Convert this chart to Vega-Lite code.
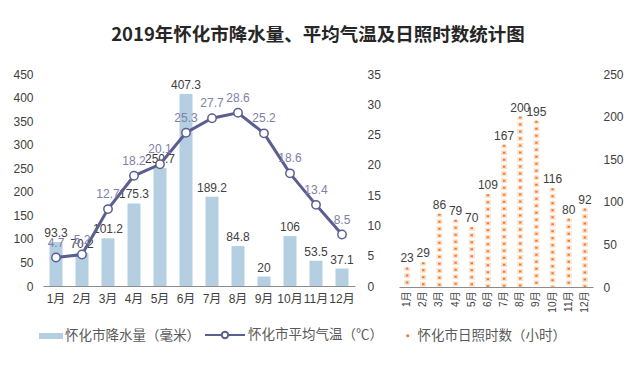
{
  "$schema": "https://vega.github.io/schema/vega-lite/v6.json",
  "background": "white",
  "padding": {"left": 12, "right": 10, "top": 25, "bottom": 5},
  "title": {
    "text": "2019年怀化市降水量、平均气温及日照时数统计图",
    "font": "Noto Sans CJK SC",
    "fontSize": 18.5,
    "fontWeight": "bold",
    "color": "#262626",
    "anchor": "middle",
    "offset": 24
  },
  "config": {
    "view": {"stroke": null},
    "font": "Liberation Sans, Noto Sans CJK SC",
    "axis": {"labelColor": "#404040", "labelFont": "Liberation Sans, Noto Sans CJK SC", "grid": false, "title": null},
    "legend": {"labelFont": "Noto Sans CJK SC", "labelFontSize": 13.5, "labelColor": "#595959", "title": null}
  },
  "datasets": {
    "m": [
      {"month": "1月", "precip": 93.3, "temp": 4.7, "sun": 23},
      {"month": "2月", "precip": 70.2, "temp": 5.2, "sun": 29},
      {"month": "3月", "precip": 101.2, "temp": 12.7, "sun": 86},
      {"month": "4月", "precip": 175.3, "temp": 18.2, "sun": 79},
      {"month": "5月", "precip": 250.7, "temp": 20.1, "sun": 70},
      {"month": "6月", "precip": 407.3, "temp": 25.3, "sun": 109},
      {"month": "7月", "precip": 189.2, "temp": 27.7, "sun": 167},
      {"month": "8月", "precip": 84.8, "temp": 28.6, "sun": 200},
      {"month": "9月", "precip": 20, "temp": 25.2, "sun": 195},
      {"month": "10月", "precip": 106, "temp": 18.6, "sun": 116},
      {"month": "11月", "precip": 53.5, "temp": 13.4, "sun": 80},
      {"month": "12月", "precip": 37.1, "temp": 8.5, "sun": 92}
    ]
  },
  "spacing": 16,
  "resolve": {
    "scale": {"fill": "independent", "stroke": "independent"},
    "legend": {"fill": "independent", "stroke": "independent"}
  },
  "hconcat": [
    {
      "width": 312,
      "height": 212,
      "data": {"name": "m"},
      "encoding": {
        "x": {
          "field": "month", "type": "ordinal", "sort": null,
          "scale": {"paddingInner": 0.5, "paddingOuter": 0.25},
          "axis": {"labelAngle": 0, "ticks": false, "domainColor": "#8c8c8c", "labelFontSize": 12, "labelPadding": 7}
        }
      },
      "layer": [
        {
          "encoding": {
            "y": {
              "field": "precip", "type": "quantitative",
              "scale": {"domain": [0, 450], "nice": false},
              "axis": {"values": [0, 50, 100, 150, 200, 250, 300, 350, 400, 450], "domain": false, "ticks": false, "labelPadding": 10, "labelFontSize": 12}
            }
          },
          "layer": [
            {
              "mark": {"type": "bar", "width": 13},
              "encoding": {
                "fill": {
                  "datum": "怀化市降水量（毫米）",
                  "scale": {"range": ["#b4cfe2"]},
                  "legend": {
                    "orient": "none", "legendX": -4, "legendY": 250,
                    "symbolType": "M-1,-0.25H1V0.25H-1Z", "symbolSize": 576,
                    "symbolStrokeWidth": 0, "labelOffset": 2
                  }
                }
              }
            },
            {
              "mark": {"type": "text", "dy": -9, "fontSize": 12, "color": "#404040"},
              "encoding": {"text": {"field": "precip", "type": "nominal"}}
            }
          ]
        },
        {
          "encoding": {
            "y": {
              "field": "temp", "type": "quantitative",
              "scale": {"domain": [0, 35], "nice": false},
              "axis": {"orient": "right", "values": [0, 5, 10, 15, 20, 25, 30, 35], "domain": false, "ticks": false, "labelPadding": 12, "labelFontSize": 12}
            }
          },
          "layer": [
            {
              "mark": {"type": "line", "strokeWidth": 3},
              "encoding": {
                "stroke": {
                  "datum": "怀化市平均气温（℃）",
                  "scale": {"range": ["#5b5f8f"]},
                  "legend": {
                    "orient": "none", "legendX": 161, "legendY": 240,
                    "symbolType": "M-1,0H-0.16M0.16,0H1M0.16,0A0.16,0.16 0 1 1 -0.16,0A0.16,0.16 0 1 1 0.16,0",
                    "symbolSize": 1600, "symbolStrokeWidth": 2, "labelOffset": 2
                  }
                }
              }
            },
            {
              "mark": {"type": "point", "filled": true, "fill": "white", "stroke": "#5b5f8f", "strokeWidth": 1.5, "size": 70, "opacity": 1}
            },
            {
              "mark": {"type": "text", "dy": -15, "fontSize": 12, "color": "#7d80a8"},
              "encoding": {"text": {"field": "temp", "type": "nominal"}}
            }
          ]
        }
      ],
      "resolve": {"scale": {"y": "independent"}}
    },
    {
      "width": 194,
      "height": 213,
      "data": {"name": "m"},
      "encoding": {
        "x": {
          "field": "month", "type": "ordinal", "sort": null,
          "scale": {"paddingInner": 0.5, "paddingOuter": 0.25},
          "axis": {"labelAngle": -90, "ticks": false, "domainColor": "#8c8c8c", "labelFontSize": 10, "labelPadding": 4}
        },
        "y": {
          "field": "sun", "type": "quantitative",
          "scale": {"domain": [0, 250], "nice": false},
          "axis": {"orient": "right", "values": [0, 50, 100, 150, 200, 250], "domain": false, "ticks": false, "labelPadding": 10, "labelFontSize": 12}
        }
      },
      "layer": [
        {
          "mark": {"type": "rule", "strokeWidth": 6, "strokeDash": [5, 2], "strokeDashOffset": 1.5, "color": "#fde3cf"},
          "encoding": {"y2": {"datum": 0}}
        },
        {
          "mark": {"type": "rule", "strokeWidth": 2.5, "strokeDash": [2, 5]},
          "encoding": {
            "y2": {"datum": 0},
            "stroke": {
              "datum": "怀化市日照时数（小时）",
              "scale": {"range": ["#ed7d31"]},
              "legend": {
                "orient": "none", "legendX": 2, "legendY": 255,
                "symbolType": "circle", "symbolSize": 10, "symbolFillColor": "#ed7d31",
                "symbolStrokeWidth": 0, "labelOffset": 3
              }
            }
          }
        },
        {
          "mark": {"type": "text", "dy": -9, "fontSize": 12, "color": "#404040"},
          "encoding": {"text": {"field": "sun", "type": "nominal"}}
        }
      ]
    }
  ]
}
